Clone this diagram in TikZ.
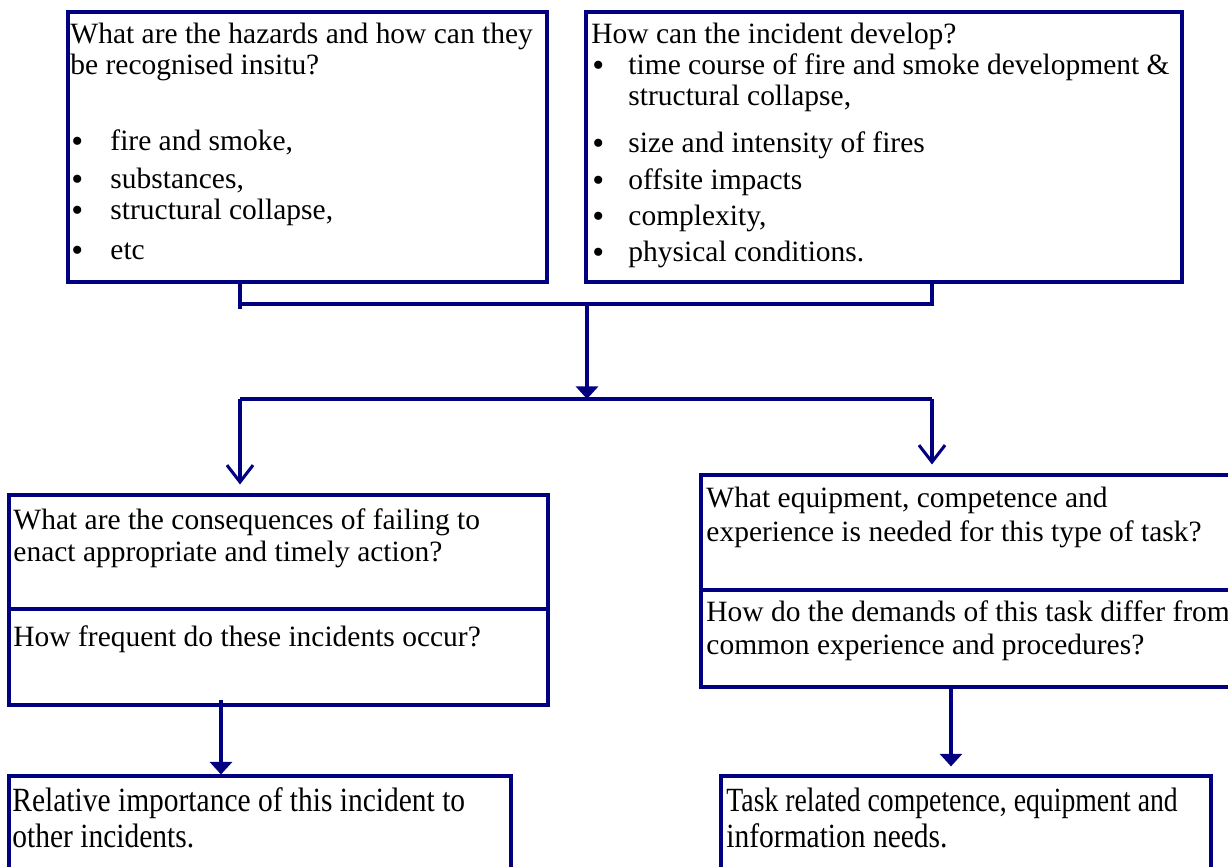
\documentclass[tikz,border=0pt]{standalone}
\usepackage{fontspec}
\setmainfont{Liberation Serif}
\usetikzlibrary{arrows.meta,fit}
\definecolor{navy}{RGB}{0,0,128}
\newcommand{\mybul}{\smash{\raisebox{-0.15ex}{\scalebox{1.15}{•}}}}
\begin{document}
\begin{tikzpicture}[x=0.4444pt,y=-0.4444pt,
  box/.style={draw=navy,line width=1.35pt,inner sep=0pt,fill=none},
  conn/.style={draw=navy,line width=1.35pt},
  tri/.style={conn,-{Triangle[width=9.8pt,length=5.6pt]}},
  barb/.style={conn,-{Straight Barb[width=11.6pt,length=7.5pt,line width=1.35pt]}},
  txt/.style={anchor=base west,inner sep=0pt,font=\fontsize{13.1}{15}\selectfont},
  tall/.style={anchor=base west,inner sep=0pt,font=\fontsize{13.1}{15}\selectfont},
  bul/.style={anchor=base west,inner sep=0pt,font=\fontsize{13.1}{15}\selectfont}]
\useasboundingbox (0,0) rectangle (1228,866);
\fill[white] (0,0) rectangle (1228,866);
% boxes
\node[box,fit={(68,12) (547,282)}] (b1) {};
\node[box,fit={(586,12) (1182,282)}] (b2) {};
\node[box,fit={(9,495) (548,705)}] (b3) {};
\node[box,fit={(701,475) (1240,687)}] (b4) {};
\node[box,fit={(9,776) (511,890)}] (b5) {};
\node[box,fit={(721,776) (1211,890)}] (b6) {};
\coordinate (d3) at (0,609);
\coordinate (d4) at (0,590);
\draw[navy,line width=1.9pt] (b3.west |- d3) -- (b3.east |- d3);
\draw[navy,line width=1.9pt] (b4.west |- d4) -- (b4.east |- d4);
% box 1 text
\node[txt] (t1a) at (70,43) {What are the hazards and how can they};
\node[txt] (t1b) at (70,74) {be recognised insitu?};
\node[bul] (u1a) at (71,150) {\mybul};
\node[txt] (t1c) at (110,150) {fire and smoke,};
\node[bul] (u1b) at (71,188) {\mybul};
\node[txt] (t1d) at (110,188) {substances,};
\node[bul] (u1c) at (71,219) {\mybul};
\node[txt] (t1e) at (110,219) {structural collapse,};
\node[bul] (u1d) at (71,259) {\mybul};
\node[txt] (t1f) at (110,259) {etc};
% box 2 text
\node[txt] (t2a) at (591,43) {How can the incident develop?};
\node[bul] (u2a) at (592,74) {\mybul};
\node[txt] (t2b) at (628,74) {time course of fire and smoke development \&};
\node[txt] (t2c) at (628,105) {structural collapse,};
\node[bul] (u2b) at (592,152) {\mybul};
\node[txt] (t2d) at (628,152) {size and intensity of fires};
\node[bul] (u2c) at (592,189) {\mybul};
\node[txt] (t2e) at (628,189) {offsite impacts};
\node[bul] (u2d) at (592,225) {\mybul};
\node[txt] (t2f) at (628,225) {complexity,};
\node[bul] (u2e) at (592,261) {\mybul};
\node[txt] (t2g) at (628,261) {physical conditions.};
% box 3 text
\node[txt] (t3a) at (13,529) {What are the consequences of failing to};
\node[txt] (t3b) at (13,561) {enact appropriate and timely action?};
\node[txt] (t3c) at (13,646) {How frequent do these incidents occur?};
% box 4 text
\node[txt] (t4a) at (706,507) {What equipment, competence and};
\node[txt] (t4b) at (706,541) {experience is needed for this type of task?};
\node[txt] (t4c) at (706,621) {How do the demands of this task differ from};
\node[txt] (t4d) at (706,654) {common experience and procedures?};
% box 5, 6 text
\node[tall] (t5a) at (12,811) {\scalebox{1.0}[1.15]{Relative importance of this incident to}};
\node[tall] (t5b) at (12,847) {\scalebox{1.0}[1.15]{other incidents.}};
\node[tall] (t6a) at (726,811) {\scalebox{0.94}[1.15]{Task related competence, equipment and}};
\node[tall] (t6b) at (726,847) {\scalebox{1.0}[1.15]{information needs.}};
% connectors
\coordinate (j1) at (240,304);
\coordinate (j1t) at (240,309);
\coordinate (j2) at (932,304);
\coordinate (j3) at (587,304);
\coordinate (k1) at (240,399);
\coordinate (k2) at (932,399);
\coordinate (k3) at (587,399);
\coordinate (s1) at (221,700);
\coordinate (s2) at (951,0);
\draw[conn] (b1.south -| j1) -- (j1t);
\draw[conn] (b2.south -| j2) -- (j2) -- (j1);
\draw[tri] (j3) -- (k3);
\draw[conn] (k1) -- (k2);
\draw[barb,shorten >=4pt] (k1) -- (b3.north -| k1);
\draw[barb,shorten >=4pt] (k2) -- (b4.north -| k2);
\draw[tri] (s1) -- (b5.north -| s1);
\draw[tri,shorten >=3.6pt] (b4.south -| s2) -- (b6.north -| s2);
\end{tikzpicture}
\end{document}
